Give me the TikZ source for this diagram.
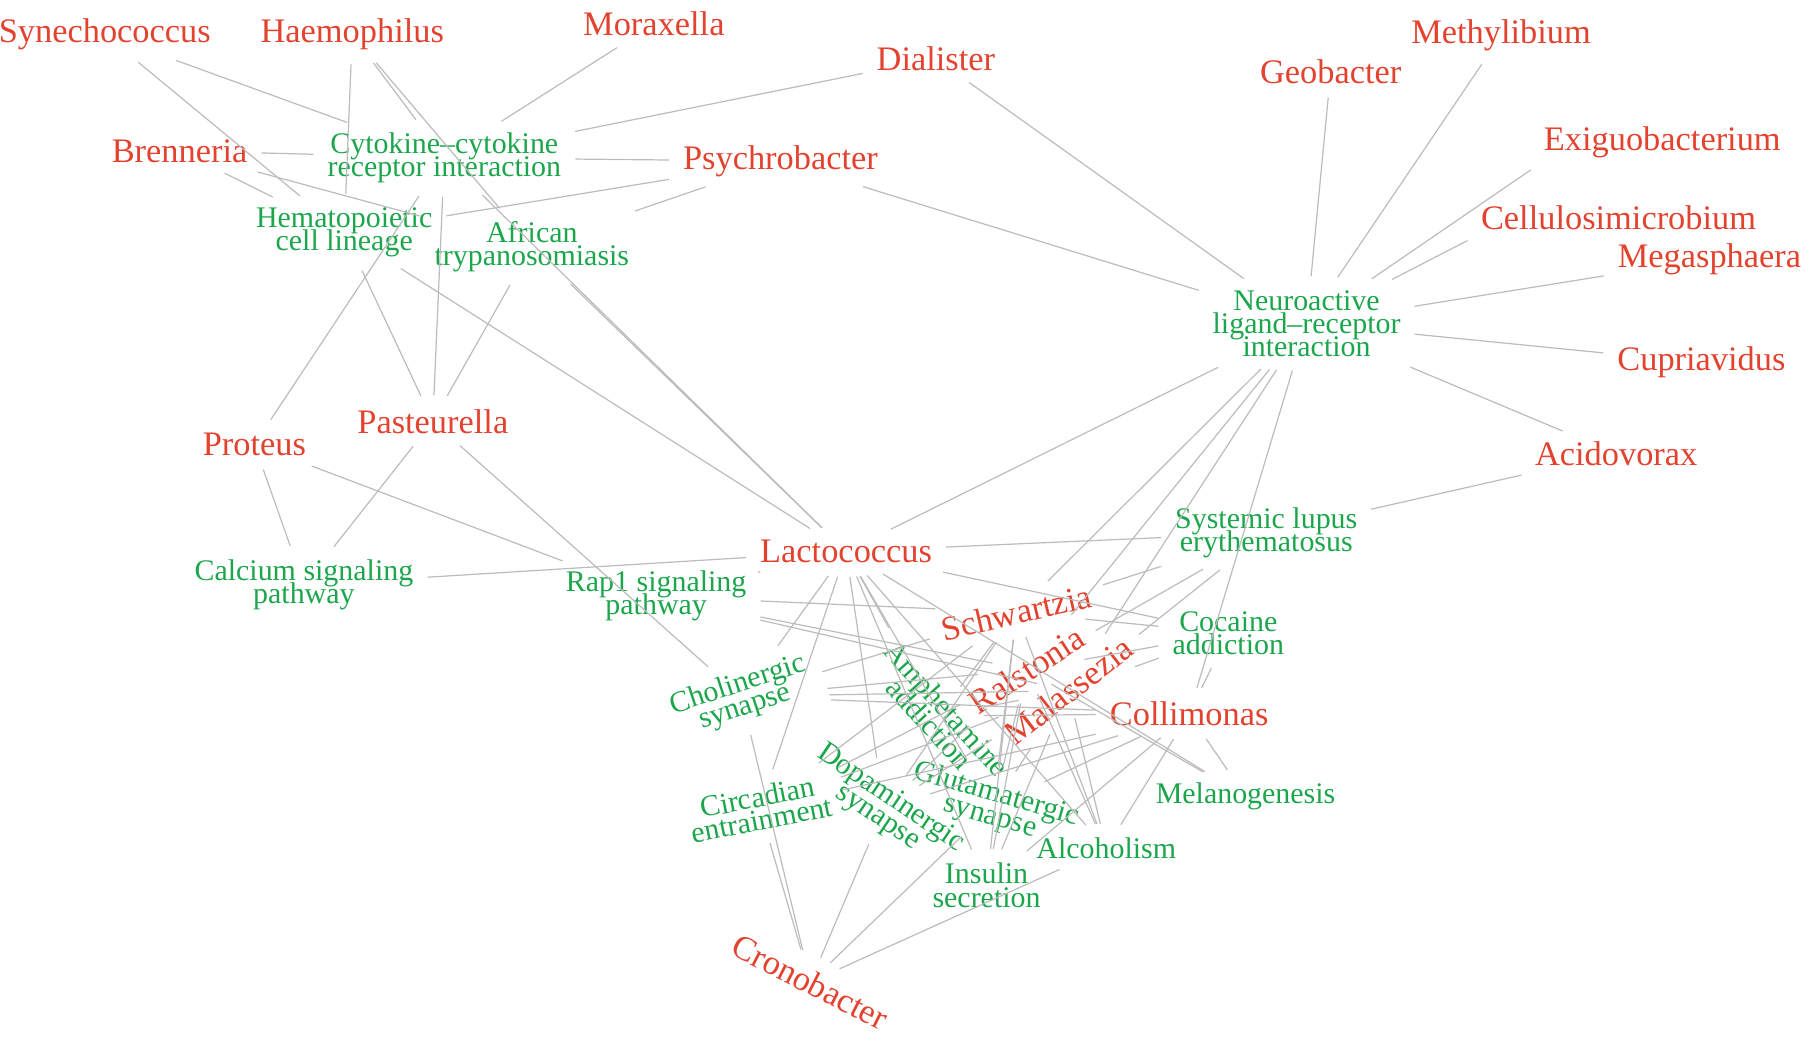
\documentclass[tikz,border=0pt]{standalone}
\usepackage{fontspec}
\setmainfont{Liberation Serif}
\definecolor{gred}{RGB}{226,66,46}
\definecolor{pgreen}{RGB}{28,166,76}
\definecolor{edgegray}{RGB}{188,188,188}
\tikzset{
  genus/.style={text=gred, font=\fontsize{17}{17}\selectfont, inner sep=2pt, outer sep=2pt},
  pathway/.style={text=pgreen, font={\fontsize{14.8}{11.4}\selectfont\lineskiplimit=-50pt\lineskip=0pt}, align=center, inner sep=2pt, outer sep=2pt},
  link/.style={draw=edgegray, line width=0.6pt, shorten >=3pt, shorten <=3pt}
}
\begin{document}
\begin{tikzpicture}[x=0.02cm,y=-0.02cm]
\useasboundingbox (0,0) rectangle (1568,902);
% genera
\node[genus] (syn) at (91,30) {Synechococcus};
\node[genus] (hae) at (306,30) {Haemophilus};
\node[genus] (mor) at (568,21) {Moraxella};
\node[genus] (dia) at (813,51) {Dialister};
\node[genus] (geo) at (1156,62) {Geobacter};
\node[genus] (met) at (1304,31) {Methylibium};
\node[genus] (exi) at (1444,124) {Exiguobacterium};
\node[genus] (cel) at (1406,189) {Cellulosimicrobium};
\node[genus] (meg) at (1485,225) {Megasphaera};
\node[genus] (cup) at (1478,315) {Cupriavidus};
\node[genus] (aci) at (1404,394) {Acidovorax};
\node[genus] (bre) at (156,131) {Brenneria};
\node[genus] (psy) at (678,140) {Psychrobacter};
\node[genus] (pro) at (221,386) {Proteus};
\node[genus] (pas) at (376,366) {Pasteurella};
\node[genus] (lac) at (735,479) {Lactococcus};
\node[genus, rotate=13] (sch) at (883,532) {Schwartzia};
\node[genus, rotate=33] (ral) at (892,582) {Ralstonia};
\node[genus, rotate=38] (mal) at (928,600) {Malassezia};
\node[genus] (col) at (1033,620) {Collimonas};
\node[genus, rotate=-27] (cro) at (704,853) {Cronobacter};
% pathways
\node[pathway] (cyt) at (386,137) {Cytokine–cytokine\\receptor interaction};
\node[pathway] (hem) at (299,202) {Hematopoietic\\cell lineage};
\node[pathway] (afr) at (462,214) {African\\trypanosomiasis};
\node[pathway] (nlr) at (1135,281) {Neuroactive\\ligand–receptor\\interaction};
\node[pathway] (sle) at (1100,463) {Systemic lupus\\erythematosus};
\node[pathway] (cal) at (264,508) {Calcium signaling\\pathway};
\node[pathway] (rap) at (570,518) {Rap1 signaling\\pathway};
\node[pathway, rotate=18] (cho) at (644,605) {Cholinergic\\synapse};
\node[pathway, rotate=-48] (amp) at (815,622) {Amphetamine\\addiction};
\node[pathway, rotate=11] (cir) at (660,702) {Circadian\\entrainment};
\node[pathway, rotate=-34] (dop) at (768,702) {Dopaminergic\\synapse};
\node[pathway, rotate=-16] (glu) at (863,700) {Glutamatergic\\synapse};
\node[pathway] (alc) at (961,737) {Alcoholism};
\node[pathway] (ins) at (857,769) {Insulin\\secretion};
\node[pathway] (coc) at (1067,550) {Cocaine\\addiction};
\node[pathway] (mel) at (1082,692) {Melanogenesis};
% edges
\draw[link] (exi.south west) -- (nlr);
\draw[link] (cel.south west) -- (nlr);
\foreach \a/\b in {
  syn/cyt, syn/hem,
  hae/cyt, hae/hem, hae/afr,
  mor/cyt,
  dia/cyt, dia/nlr,
  bre/cyt, bre/hem, bre/afr,
  psy/cyt, psy/hem, psy/afr, psy/nlr,
  pro/cyt, pro/cal, pro/rap,
  pas/cyt, pas/hem, pas/afr, pas/cal, pas/cho,
  geo/nlr, met/nlr, meg/nlr, cup/nlr,
  aci/nlr, aci/sle,
  lac/cyt, lac/hem, lac/afr, lac/nlr, lac/sle, lac/cal, lac/rap,
  lac/cho, lac/amp, lac/cir, lac/dop, lac/glu, lac/alc, lac/ins, lac/coc, lac/mel,
  sch/nlr, sch/sle, sch/rap,
  sch/cho, sch/amp, sch/cir, sch/dop, sch/glu, sch/alc, sch/ins, sch/coc,
  ral/nlr, ral/sle, ral/rap,
  ral/cho, ral/amp, ral/cir, ral/dop, ral/glu, ral/alc, ral/ins, ral/coc, ral/mel,
  mal/nlr, mal/sle, mal/rap,
  mal/cho, mal/amp, mal/cir, mal/dop, mal/glu, mal/alc, mal/ins, mal/coc,
  col/nlr,
  col/cho, col/amp, col/cir, col/dop, col/glu, col/alc, col/ins, col/coc, col/mel,
  cro/cho, cro/cir, cro/dop, cro/glu, cro/alc}
  \draw[link] (\a) -- (\b);
\end{tikzpicture}
\end{document}
